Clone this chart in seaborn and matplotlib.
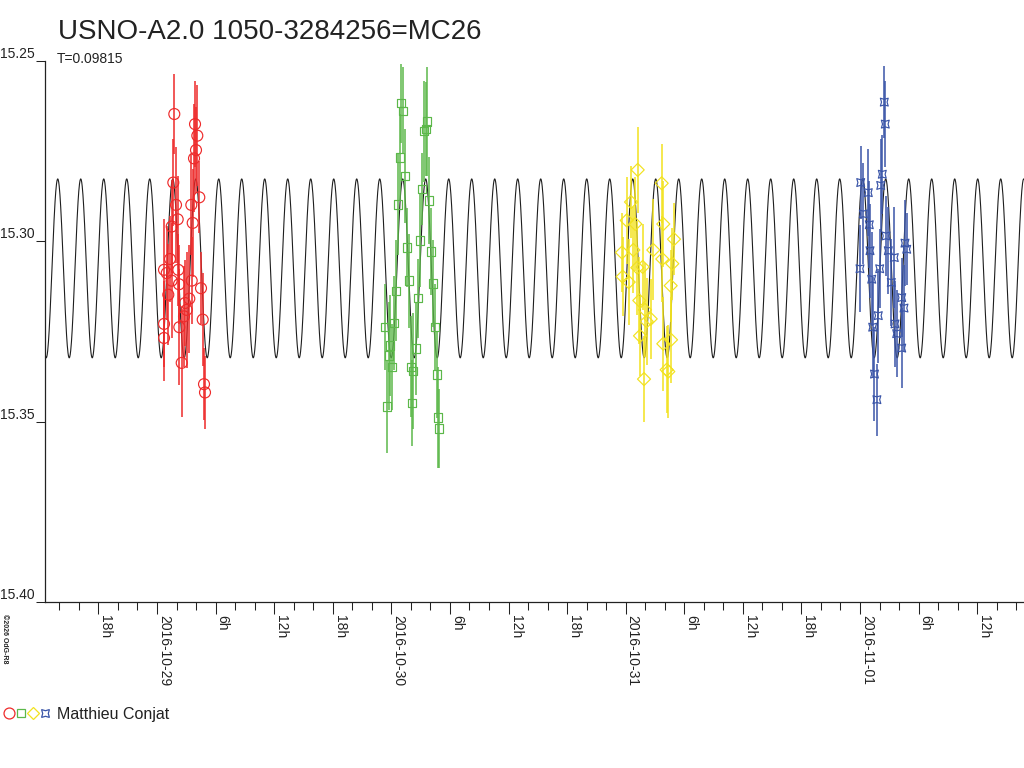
import numpy as np
import pandas as pd
import matplotlib
matplotlib.use("Agg")
import matplotlib.pyplot as plt
import matplotlib.dates as mdates
from matplotlib.lines import Line2D
from matplotlib.legend_handler import HandlerTuple
import seaborn as sns

sns.set_style("white")
plt.rcParams["font.family"] = ["Liberation Sans", "DejaVu Sans"]

# epoch: 2016-10-29 00:00 UT, times in days from it
EPOCH = np.datetime64("2016-10-29T00:00:00")

# model: sinusoid with period T (days)
period = 0.09815
mean_mag = 15.3075
amp_mag = 0.0248
t_max_light = -0.4237

# night 1 (red circles)
red_t = [0.0738, 0.1622, 0.1720, 0.1664, 0.1579, 0.0696, 0.1805, 0.0811, 0.1464, 0.0883,
         0.1523, 0.0627, 0.0555, 0.0299, 0.0909, 0.0414, 0.0627, 0.1481, 0.0939, 0.1878,
         0.0482, 0.1378, 0.1195, 0.1267, 0.1152, 0.0299, 0.1950, 0.0952, 0.0299, 0.1054,
         0.2006, 0.2048]
red_mag = [15.2647, 15.2675, 15.2707, 15.2747, 15.2770, 15.2837, 15.2878, 15.2899, 15.2899, 15.2939,
           15.2949, 15.2959, 15.3049, 15.3079, 15.3079, 15.3088, 15.3109, 15.3109, 15.3119, 15.3130,
           15.3148, 15.3159, 15.3171, 15.3190, 15.3208, 15.3229, 15.3217, 15.3238, 15.3268, 15.3337,
           15.3396, 15.3419]
red_err = [0.011, 0.012, 0.014, 0.012, 0.015, 0.012, 0.010, 0.016, 0.014, 0.012,
           0.015, 0.013, 0.012, 0.014, 0.010, 0.013, 0.016, 0.012, 0.011, 0.010,
           0.014, 0.015, 0.012, 0.016, 0.014, 0.012, 0.013, 0.016, 0.012, 0.015,
           0.010, 0.010]

# night 2 (green squares)
green_t = [1.0413, 1.0511, 1.1535, 1.1467, 1.1394, 1.0370, 1.0571, 1.1296, 1.1595, 1.0285,
           1.1211, 1.0656, 1.1680, 1.0741, 1.1778, 1.1138, 1.0186, 1.0114, 0.9717, 1.1851,
           0.9943, 1.1053, 0.9901, 1.0029, 1.0852, 1.0937, 1.1949, 0.9815, 1.0895, 1.1979,
           1.2047]
green_mag = [15.2617, 15.2638, 15.2668, 15.2688, 15.2695, 15.2768, 15.2818, 15.2855, 15.2887, 15.2898,
             15.2998, 15.3017, 15.3028, 15.3109, 15.3117, 15.3158, 15.3137, 15.3227, 15.3238, 15.3238,
             15.3289, 15.3297, 15.3317, 15.3348, 15.3348, 15.3359, 15.3369, 15.3458, 15.3448, 15.3488,
             15.3519]
green_err = [0.011, 0.012, 0.015, 0.013, 0.014, 0.012, 0.013, 0.010, 0.012, 0.014,
             0.013, 0.011, 0.012, 0.013, 0.012, 0.011, 0.014, 0.013, 0.012, 0.012,
             0.014, 0.013, 0.015, 0.012, 0.014, 0.016, 0.012, 0.013, 0.012, 0.014,
             0.011]

# night 3 (yellow diamonds)
yellow_t = [2.0514, 2.1538, 2.0228, 2.0044, 2.0411, 2.1606, 2.2063, 1.9844, 2.0326, 2.1180,
            2.1564, 2.1990, 2.0497, 2.0727, 1.9874, 2.0130, 2.1922, 2.0582, 2.0825, 2.1068,
            2.0898, 2.0612, 2.1935, 2.1606, 2.1751, 2.1820, 2.0783]
yellow_mag = [15.2802, 15.2839, 15.2891, 15.2942, 15.2952, 15.2952, 15.2994, 15.3031, 15.3024, 15.3024,
              15.3049, 15.3062, 15.3073, 15.3071, 15.3098, 15.3113, 15.3123, 15.3164, 15.3190, 15.3215,
              15.3222, 15.3262, 15.3273, 15.3284, 15.3356, 15.3361, 15.3382]
yellow_err = [0.012, 0.011, 0.010, 0.012, 0.013, 0.012, 0.010, 0.011, 0.012, 0.014,
              0.012, 0.010, 0.013, 0.012, 0.011, 0.012, 0.010, 0.012, 0.013, 0.011,
              0.012, 0.011, 0.012, 0.013, 0.012, 0.013, 0.012]

# night 4 (blue stars)
blue_t = [3.1037, 3.1080, 3.0952, 3.0884, 3.0030, 3.0354, 3.0141, 3.0397, 3.1110, 3.1921,
          3.1993, 3.0427, 3.1208, 3.1464, 3.0000, 3.0841, 3.0500, 3.1336, 3.1780, 3.1878,
          3.0781, 3.1494, 3.0542, 3.1566, 3.1780, 3.0618, 3.0721]
blue_mag = [15.2614, 15.2675, 15.2814, 15.2845, 15.2837, 15.2865, 15.2924, 15.2954, 15.2985, 15.3005,
            15.3022, 15.3026, 15.3026, 15.3045, 15.3076, 15.3076, 15.3105, 15.3114, 15.3156, 15.3185,
            15.3206, 15.3229, 15.3238, 15.3256, 15.3296, 15.3368, 15.3439]
blue_err = [0.010, 0.012, 0.011, 0.013, 0.010, 0.012, 0.014, 0.012, 0.011, 0.012,
            0.010, 0.013, 0.012, 0.014, 0.012, 0.011, 0.013, 0.012, 0.011, 0.012,
            0.013, 0.012, 0.014, 0.012, 0.011, 0.013, 0.010]

observer = "Matthieu Conjat"
title = "USNO-A2.0 1050-3284256=MC26"


def to_time(days):
    return EPOCH + (np.asarray(days) * 86400).astype("timedelta64[s]")


sessions = [
    (red_t, red_mag, red_err, "#ee2a2a", "o", 62),
    (green_t, green_mag, green_err, "#5cb84a", "s", 36),
    (yellow_t, yellow_mag, yellow_err, "#f2e21e", "D", 44),
    (blue_t, blue_mag, blue_err, "#3a55a8", (4, 1, 45), 64),
]

fig = plt.figure(figsize=(10.24, 7.68), dpi=100)
ax = fig.add_axes([45 / 1024, 166 / 768, 979 / 1024, 541 / 768])

x_lo, x_hi = -0.4780, 3.6999
model_t = np.linspace(x_lo, x_hi, 4000)
model_mag = mean_mag - amp_mag * np.cos(2 * np.pi * (model_t - t_max_light) / period)
sns.lineplot(x=to_time(model_t), y=model_mag, ax=ax, color="#1e1e1e", lw=0.8,
             estimator=None, sort=False, zorder=1)

for t, m, e, c, mk, s in sessions:
    ax.errorbar(to_time(t), m, yerr=e, fmt="none", ecolor=c, elinewidth=1.1, capsize=0, zorder=2)
    sns.scatterplot(x=to_time(t), y=m, ax=ax, marker=mk, s=s, color=c, linewidth=0.85, zorder=3)
    pts = ax.collections[-1]
    pts.set_facecolor("none")
    pts.set_edgecolor(c)

ax.set_xlim(to_time(x_lo), to_time(x_hi))
ax.set_ylim(15.40, 15.25)
ax.set_yticks([15.25, 15.30, 15.35, 15.40])
ax.yaxis.set_major_formatter(plt.FormatStrFormatter("%.2f"))
ax.set_xlabel("")
ax.set_ylabel("")


def hour_label(v, pos):
    d = mdates.num2date(v)
    if d.hour == 0:
        return d.strftime("%Y-%m-%d")
    return f"{d.hour}h"


ax.xaxis.set_major_locator(mdates.HourLocator(byhour=[0, 6, 12, 18]))
ax.xaxis.set_minor_locator(mdates.HourLocator(byhour=range(0, 24, 2)))
ax.xaxis.set_major_formatter(plt.FuncFormatter(hour_label))

for side in ["top", "right"]:
    ax.spines[side].set_visible(False)
for side in ["left", "bottom"]:
    ax.spines[side].set_color("#222222")
    ax.spines[side].set_linewidth(0.9)

ax.tick_params(axis="y", direction="out", length=6.5, width=0.75, pad=1,
               labelsize=10, colors="#222222", left=True)
ax.tick_params(axis="x", which="major", direction="out", length=8.6, width=0.75,
               pad=1, labelsize=10, colors="#222222", bottom=True, labelrotation=270)
ax.tick_params(axis="x", which="minor", direction="out", length=5.8, width=0.75,
               colors="#222222", bottom=True)
plt.setp(ax.get_yticklabels(), va="bottom")
plt.setp(ax.get_xticklabels(), ha="left", va="top")

fig.text(58 / 1024, 1 - 39 / 768, title, fontsize=20, color="#222222", va="baseline")
fig.text(57 / 1024, 1 - 63 / 768, f"T={period}", fontsize=10, color="#222222", va="baseline")
fig.text(1 / 1024, 1 - 614 / 768, "\u00a92026 OdG-R8", fontsize=5, rotation=270,
         color="#222222", ha="left", va="top", fontweight="bold")

handles = tuple(
    Line2D([], [], ls="none", marker=mk, mfc="none", mec=c, mew=0.9,
           ms=np.sqrt(s) * (0.9 if mk == "D" else 1.0))
    for _, _, _, c, mk, s in sessions
)
fig.legend([handles], [observer], handler_map={tuple: HandlerTuple(ndivide=None, pad=0.1)},
           loc="center left", bbox_to_anchor=(3.5 / 1024, 1 - 714 / 768), frameon=False,
           handlelength=2.9, handletextpad=0.45, fontsize=11.5, borderpad=0, borderaxespad=0,
           labelcolor="#222222")

fig.savefig("out.png", dpi=100)
